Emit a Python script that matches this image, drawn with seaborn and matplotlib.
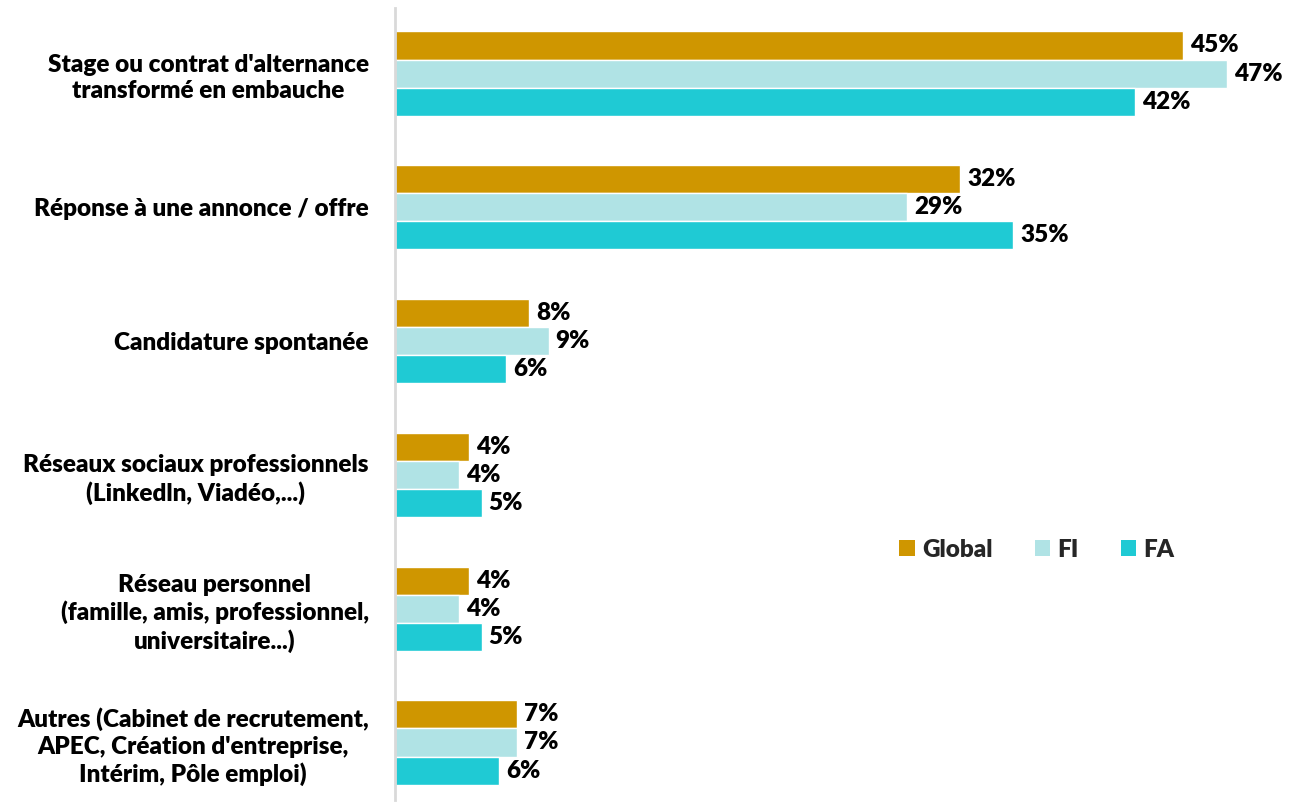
import pandas as pd
import matplotlib.pyplot as plt
import seaborn as sns
from matplotlib.patches import Patch

# données (%)
categories = [
    "Stage ou contrat d'alternance\ntransformé en embauche",
    "Réponse à une annonce / offre",
    "Candidature spontanée",
    "Réseaux sociaux professionnels\n(Linkedln, Viadéo,...)",
    "Réseau personnel\n(famille, amis, professionnel,\nuniversitaire...)",
    "Autres (Cabinet de recrutement,\nAPEC, Création d'entreprise,\nIntérim, Pôle emploi)",
]
global_vals = [44.6, 32.0, 7.6, 4.2, 4.2, 6.9]
fi_vals = [47.1, 29.0, 8.7, 3.6, 3.6, 6.9]
fa_vals = [41.9, 35.0, 6.3, 4.9, 4.9, 5.9]
series = ["Global", "FI", "FA"]
colors = ["#CF9600", "#B0E3E5", "#1FCAD4"]

df = pd.DataFrame({
    "cat": categories * 3,
    "serie": ["Global"] * 6 + ["FI"] * 6 + ["FA"] * 6,
    "val": global_vals + fi_vals + fa_vals,
})

sns.set_theme(style="white")
plt.rcParams['font.family'] = ['Lato', 'DejaVu Sans']
plt.rcParams['font.weight'] = 'heavy'
FS = 17.5

fig = plt.figure(figsize=(13.06, 8.02), dpi=100)
ax = fig.add_axes([0.3025, 0.0025, 0.6855, 0.9875])

sns.barplot(data=df, y="cat", x="val", hue="serie", hue_order=series,
            palette=colors, order=categories, width=0.63, orient="h",
            ax=ax, legend=False, saturation=1)

for cont in ax.containers:
    ax.bar_label(cont, labels=[f"{v:.0f}%" for v in cont.datavalues],
                 padding=5, fontsize=FS, fontweight='heavy', color='black')

ax.set_xlim(0, 50.7)
ax.set_ylim(5.43, -0.49)
ax.set_xlabel("")
ax.set_ylabel("")
ax.set_xticks([])
for s in ["top", "right", "bottom"]:
    ax.spines[s].set_visible(False)
ax.spines["left"].set_color("#D9D9D9")
ax.spines["left"].set_linewidth(2)
ax.tick_params(axis="y", length=0, pad=19)
for t in ax.get_yticklabels():
    t.set_fontsize(FS)
    t.set_fontweight('heavy')
    t.set_color('black')
    t.set_horizontalalignment('right')
    t.set_multialignment('center')
    t.set_linespacing(1.25)

handles = [Patch(facecolor=c, edgecolor='none') for c in colors]
ax.legend(handles, series, loc="center", bbox_to_anchor=(0.717, 0.316), ncol=3,
          frameon=False, handlelength=0.62, handleheight=0.62, handletextpad=0.3,
          columnspacing=1.75, prop={'size': FS, 'weight': 'heavy'})

fig.savefig("out.png", dpi=100)
